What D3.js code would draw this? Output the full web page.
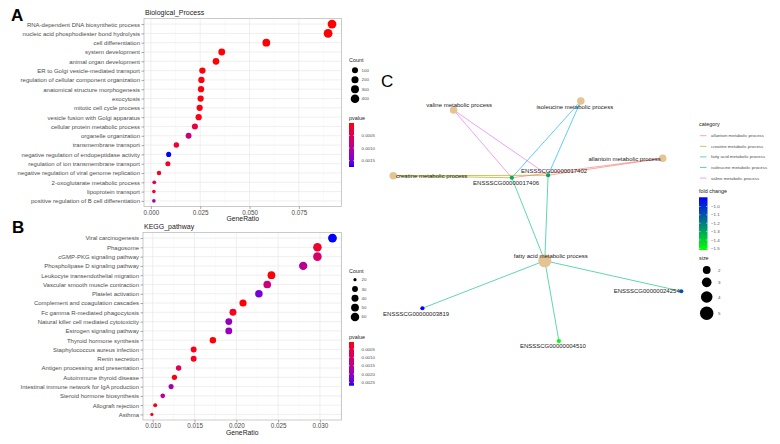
<!DOCTYPE html>
<html><head><meta charset="utf-8">
<script src="https://cdn.jsdelivr.net/npm/d3@7"></script>
<style>body{margin:0;background:#fff}svg{font-family:"Liberation Sans",Arial,sans-serif}</style>
</head><body><svg id="c" width="780" height="444"></svg>
<script>
// ---------- Panel A data ----------
const bpTerms = ["RNA-dependent DNA biosynthetic process","nucleic acid phosphodiester bond hydrolysis","cell differentiation","system development","animal organ development","ER to Golgi vesicle-mediated transport","regulation of cellular component organization","anatomical structure morphogenesis","exocytosis","mitotic cell cycle process","vesicle fusion with Golgi apparatus","cellular protein metabolic process","organelle organization","transmembrane transport","negative regulation of endopeptidase activity","regulation of ion transmembrane transport","negative regulation of viral genome replication","2-oxoglutarate metabolic process","lipoprotein transport","positive regulation of B cell differentiation"];
const bpRatio = [0.0918,0.0898,0.0585,0.0359,0.0330,0.0261,0.0256,0.0254,0.0252,0.0247,0.0242,0.0223,0.0191,0.0129,0.0090,0.0086,0.0041,0.0017,0.0015,0.0015];
const bpCount = [431,422,275,169,155,123,120,119,118,116,114,105,90,61,42,40,19,8,7,7];
const bpP = [0.000002,0.000005,0.00001,0.00001,0.00002,0.00003,0.00004,0.00004,0.00005,0.00006,0.00007,0.00035,0.0008,0.00022,0.00175,0.00018,0.00012,0.00045,0.0003,0.0012];
const bpTicks = [0,0.025,0.05,0.075];
const bpCountLegend = [100,200,300,400];
const bpPLegend = [0.0005,0.0010,0.0015];

// ---------- Panel B data ----------
const kgTerms = ["Viral carcinogenesis","Phagosome","cGMP-PKG signaling pathway","Phospholipase D signaling pathway","Leukocyte transendothelial migration","Vascular smooth muscle contraction","Platelet activation","Complement and coagulation cascades","Fc gamma R-mediated phagocytosis","Natural killer cell mediated cytotoxicity","Estrogen signaling pathway","Thyroid hormone synthesis","Staphylococcus aureus infection","Renin secretion","Antigen processing and presentation","Autoimmune thyroid disease","Intestinal immune network for IgA production","Steroid hormone biosynthesis","Allograft rejection","Asthma"];
const kgRatio = [0.0315,0.0297,0.0297,0.0280,0.0242,0.0237,0.0227,0.0208,0.0196,0.0191,0.0191,0.0172,0.0149,0.0149,0.0131,0.0126,0.0122,0.0112,0.0103,0.0099];
const kgCount = [64,60,60,57,49,48,46,42,40,39,39,35,30,30,27,26,25,23,21,20];
const kgP = [0.0027,0.0004,0.0010,0.0015,0.0001,0.0012,0.0023,0.00008,0.0003,0.0020,0.0020,0.0001,0.0002,0.00025,0.0008,0.0001,0.0018,0.0015,0.0002,0.0002];
const kgTicks = [0.010,0.015,0.020,0.025,0.030];
const kgCountLegend = [20,30,40,50,60];
const kgPLegend = [0.0005,0.0010,0.0015,0.0020,0.0025];

// ---------- Panel C data ----------
const catNames = ["allantoin metabolic process","creatine metabolic process","fatty acid metabolic process","isoleucine metabolic process","valine metabolic process"];
const catColors = ["#F8766D","#A3A500","#00BF7D","#00B0F6","#E76BF3"];
const catSize = [2,2,5,2,2];
const catLayoutX = [90.9,1.1,51.6,63.6,21.2];
const catLayoutY = [25.3,32.3,66.3,2.4,6.0];
const geneNames = ["ENSSSCG00000017406","ENSSSCG00000017402","ENSSSCG00000003819","ENSSSCG00000004510","ENSSSCG00000024254"];
const geneFold = [-1.32,-1.30,-0.89,-1.52,-1.10];
const geneLayoutX = [40.6,52.7,10.8,56.3,97.1];
const geneLayoutY = [33.1,32.1,85.3,98.4,78.5];
const edgeCat = ["valine metabolic process","valine metabolic process","isoleucine metabolic process","isoleucine metabolic process","creatine metabolic process","creatine metabolic process","allantoin metabolic process","allantoin metabolic process","fatty acid metabolic process","fatty acid metabolic process","fatty acid metabolic process","fatty acid metabolic process","fatty acid metabolic process"];
const edgeGene = ["ENSSSCG00000017406","ENSSSCG00000017402","ENSSSCG00000017406","ENSSSCG00000017402","ENSSSCG00000017406","ENSSSCG00000017402","ENSSSCG00000017406","ENSSSCG00000017402","ENSSSCG00000017406","ENSSSCG00000017402","ENSSSCG00000003819","ENSSSCG00000004510","ENSSSCG00000024254"];
const foldLegend = [-1.0,-1.1,-1.2,-1.3,-1.4,-1.5];
const sizeLegend = [2,3,4,5];

const svg = d3.select("#c");
const pColor = t => d3.interpolateLab("#FF0000","#0000FF")(t);
const AX = "#4D4D4D";

function dotPanel(o){
  const g = svg.append("g");
  const x = d3.scaleLinear().domain(o.xDomain).range([o.left,o.right]);
  const y = d3.scalePoint().domain(o.terms).range([o.top,o.bottom]).padding(0.6);
  const cmin = d3.min(o.count), cmax = d3.max(o.count);
  const rs = v => o.rMin + (o.rMax-o.rMin)*Math.sqrt(Math.max(0,(v-cmin)/(cmax-cmin)));
  const pmin = d3.min(o.p), pmax = d3.max(o.p);
  const pt = d3.scaleLinear().domain([pmin,pmax]).range([0,1]).clamp(true);
  const minor = [];
  for(let i=0;i<o.ticks.length+1;i++){
    const step = o.ticks[1]-o.ticks[0];
    const m = o.ticks[0] - step/2 + i*step;
    if(m>o.xDomain[0] && m<o.xDomain[1]) minor.push(m);
  }
  g.selectAll(".mn").data(minor).join("line").attr("x1",d=>x(d)).attr("x2",d=>x(d)).attr("y1",o.top).attr("y2",o.bottom).attr("stroke","#F4F4F4").attr("stroke-width",0.5);
  g.selectAll(".mj").data(o.ticks).join("line").attr("x1",d=>x(d)).attr("x2",d=>x(d)).attr("y1",o.top).attr("y2",o.bottom).attr("stroke","#E8E8E8").attr("stroke-width",0.7);
  g.selectAll(".hy").data(o.terms).join("line").attr("x1",o.left).attr("x2",o.right).attr("y1",d=>y(d)).attr("y2",d=>y(d)).attr("stroke","#E8E8E8").attr("stroke-width",0.7);
  g.selectAll(".pt").data(o.terms).join("circle")
    .attr("cx",(d,i)=>x(o.ratio[i])).attr("cy",d=>y(d))
    .attr("r",(d,i)=>rs(o.count[i])).attr("fill",(d,i)=>pColor(pt(o.p[i])));
  g.append("rect").attr("x",o.left).attr("y",o.top).attr("width",o.right-o.left).attr("height",o.bottom-o.top).attr("fill","none").attr("stroke","#BDBDBD").attr("stroke-width",0.8);
  const xa = g.append("g").attr("transform",`translate(0,${o.bottom})`)
    .call(d3.axisBottom(x).tickValues(o.ticks).tickFormat(d3.format(".3f")).tickSize(2.5).tickPadding(1.5));
  const ya = g.append("g").attr("transform",`translate(${o.left},0)`)
    .call(d3.axisLeft(y).tickSize(2.5).tickPadding(1.5));
  [xa,ya].forEach(a=>{a.select(".domain").remove();a.selectAll("line").attr("stroke","#555").attr("stroke-width",0.5);a.selectAll("text").attr("fill",AX).style("font-size","6px");});
  xa.selectAll("text").style("font-size","6.3px");
  g.append("text").attr("x",(o.left+o.right)/2).attr("y",o.bottom+14.5).attr("text-anchor","middle").style("font-size","6.8px").attr("fill","#222").text("GeneRatio");
  g.append("text").attr("x",o.left+1).attr("y",o.top-3.5).style("font-size","7px").attr("fill","#222").text(o.title);
  const L = o.legend;
  g.append("text").attr("x",L.x).attr("y",L.countY).style("font-size","5.4px").attr("fill","#222").text("Count");
  g.selectAll(".lc").data(o.countLegend).join("circle").attr("cx",L.x+6).attr("cy",(d,i)=>L.countY0+i*L.countStep).attr("r",d=>rs(d)).attr("fill","#000");
  g.selectAll(".lt").data(o.countLegend).join("text").attr("x",L.x+12.5).attr("y",(d,i)=>L.countY0+i*L.countStep).attr("dy","0.35em").style("font-size","4.4px").attr("fill",AX).text(d=>d);
  g.append("text").attr("x",L.x).attr("y",L.pY).style("font-size","5.4px").attr("fill","#222").text("pvalue");
  const gid = "grad"+o.id;
  const lg = svg.append("defs").append("linearGradient").attr("id",gid).attr("x1",0).attr("x2",0).attr("y1",0).attr("y2",1);
  d3.range(0,1.001,0.05).forEach(t=>lg.append("stop").attr("offset",t).attr("stop-color",pColor(t)));
  g.append("rect").attr("x",L.x).attr("y",L.barTop).attr("width",5).attr("height",L.barBot-L.barTop).attr("fill",`url(#${gid})`);
  const py = d3.scaleLinear().domain([pmin,pmax]).range([L.barTop,L.barBot]);
  o.pLegend.forEach(v=>{
    g.append("line").attr("x1",L.x).attr("x2",L.x+1).attr("y1",py(v)).attr("y2",py(v)).attr("stroke","#fff").attr("stroke-width",0.5);
    g.append("line").attr("x1",L.x+4).attr("x2",L.x+5).attr("y1",py(v)).attr("y2",py(v)).attr("stroke","#fff").attr("stroke-width",0.5);
    g.append("text").attr("x",L.x+12.5).attr("y",py(v)).attr("dy","0.35em").style("font-size","4.4px").attr("fill",AX).text(d3.format(".4f")(v));
  });
}

dotPanel({id:"A",terms:bpTerms,ratio:bpRatio,count:bpCount,p:bpP,xDomain:[-0.0035,0.0966],left:144,right:341.5,top:18.5,bottom:206.5,ticks:bpTicks,title:"Biological_Process",rMin:1.8,rMax:4.4,countLegend:bpCountLegend,pLegend:bpPLegend,
  legend:{x:349,countY:62,countY0:70.3,countStep:9.5,pY:120,barTop:123,barBot:167}});
dotPanel({id:"B",terms:kgTerms,ratio:kgRatio,count:kgCount,p:kgP,xDomain:[0.00884,0.03258],left:143,right:341.5,top:232.5,bottom:420,ticks:kgTicks,title:"KEGG_pathway",rMin:1.6,rMax:4.4,countLegend:kgCountLegend,pLegend:kgPLegend,
  legend:{x:349,countY:272.5,countY0:279.7,countStep:9.3,pY:338.5,barTop:342,barBot:385.7}});

svg.append("text").attr("x",11).attr("y",20.5).style("font-size","17px").style("font-weight","bold").text("A");
svg.append("text").attr("x",12).attr("y",233).style("font-size","17px").style("font-weight","bold").text("B");
svg.append("text").attr("x",381).attr("y",86.5).style("font-size","17px").text("C");

// ---------- Panel C ----------
const nx = d3.scaleLinear().domain([0,100]).range([390,690]);
const ny = d3.scaleLinear().domain([0,100]).range([95,345]);
const sz = d3.scaleLinear().domain([2,5]).range([3.8,6.6]);
const fcT = d3.scaleLinear().domain([d3.min(geneFold),d3.max(geneFold)]).range([0,1]);
const fcColor = t => d3.interpolateRgb("#00FF00","#0000FF")(t);
const pos = {};
catNames.forEach((n,i)=>pos[n]=[nx(catLayoutX[i]),ny(catLayoutY[i])]);
geneNames.forEach((n,i)=>pos[n]=[nx(geneLayoutX[i]),ny(geneLayoutY[i])]);
const gc = svg.append("g");
gc.selectAll(".ed").data(edgeCat).join("line")
  .attr("x1",d=>pos[d][0]).attr("y1",d=>pos[d][1])
  .attr("x2",(d,i)=>pos[edgeGene[i]][0]).attr("y2",(d,i)=>pos[edgeGene[i]][1])
  .attr("stroke",d=>catColors[catNames.indexOf(d)]).attr("stroke-opacity",0.7).attr("stroke-width",0.9);
gc.selectAll(".cn").data(catNames).join("circle").attr("cx",d=>pos[d][0]).attr("cy",d=>pos[d][1]).attr("r",(d,i)=>sz(catSize[i])).attr("fill","#E5C494");
gc.selectAll(".gn").data(geneNames).join("circle").attr("cx",d=>pos[d][0]).attr("cy",d=>pos[d][1]).attr("r",2.1).attr("fill",(d,i)=>fcColor(fcT(geneFold[i])));
const catLabelDx = [-38,38.4,6,-6,5.6], catLabelDy=[0.7,0.3,-4.7,5.7,-5];
const geneLabelDx = [-5.7,6,-6.3,-6,-34.6], geneLabelDy=[5,-4.3,5.4,5,0];
gc.selectAll(".cl").data(catNames).join("text").attr("x",(d,i)=>pos[d][0]+catLabelDx[i]).attr("y",(d,i)=>pos[d][1]+catLabelDy[i]).attr("dy","0.35em").attr("text-anchor","middle").style("font-size","6px").attr("fill","#222").text(d=>d);
gc.selectAll(".gl").data(geneNames).join("text").attr("x",(d,i)=>pos[d][0]+geneLabelDx[i]).attr("y",(d,i)=>pos[d][1]+geneLabelDy[i]).attr("dy","0.35em").attr("text-anchor","middle").style("font-size","6px").attr("fill","#222").text(d=>d);

const lx = 699;
gc.append("text").attr("x",lx).attr("y",125.5).style("font-size","5.4px").attr("fill","#222").text("category");
catNames.forEach((n,i)=>{
  const yy = 135.7 + i*10.6;
  gc.append("line").attr("x1",lx+1).attr("x2",lx+7.5).attr("y1",yy).attr("y2",yy).attr("stroke",catColors[i]).attr("stroke-opacity",0.7).attr("stroke-width",0.9);
  gc.append("text").attr("x",lx+12).attr("y",yy).attr("dy","0.35em").style("font-size","4.4px").attr("fill",AX).text(n);
});
gc.append("text").attr("x",lx).attr("y",193).style("font-size","5.4px").attr("fill","#222").text("fold change");
const lg2 = svg.append("defs").append("linearGradient").attr("id","gradC").attr("x1",0).attr("x2",0).attr("y1",0).attr("y2",1);
d3.range(0,1.001,0.05).forEach(t=>lg2.append("stop").attr("offset",t).attr("stop-color",fcColor(1-t)));
gc.append("rect").attr("x",lx).attr("y",197.3).attr("width",8.5).attr("height",52.7).attr("fill","url(#gradC)");
const fy = d3.scaleLinear().domain([d3.max(geneFold),d3.min(geneFold)]).range([197.3,250]);
foldLegend.forEach(v=>{
  gc.append("line").attr("x1",lx).attr("x2",lx+1.5).attr("y1",fy(v)).attr("y2",fy(v)).attr("stroke","#fff").attr("stroke-width",0.5);
  gc.append("line").attr("x1",lx+7).attr("x2",lx+8.5).attr("y1",fy(v)).attr("y2",fy(v)).attr("stroke","#fff").attr("stroke-width",0.5);
  gc.append("text").attr("x",lx+12).attr("y",fy(v)).attr("dy","0.35em").style("font-size","4.4px").attr("fill",AX).text(d3.format(".1f")(v));
});
gc.append("text").attr("x",lx).attr("y",260).style("font-size","5.4px").attr("fill","#222").text("size");
const sizeY = [270,282.3,297,313.3];
sizeLegend.forEach((v,i)=>{
  gc.append("circle").attr("cx",lx+7.7).attr("cy",sizeY[i]).attr("r",sz(v)*1.02).attr("fill","#000");
  gc.append("text").attr("x",lx+19).attr("y",sizeY[i]).attr("dy","0.35em").style("font-size","4.4px").attr("fill",AX).text(v);
});
</script></body></html>
